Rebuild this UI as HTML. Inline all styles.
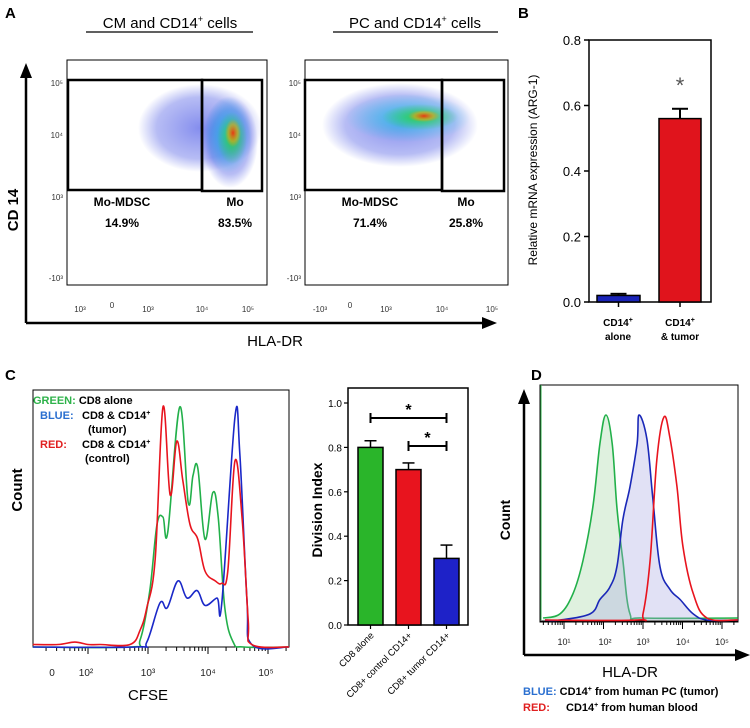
<!DOCTYPE html>
<html><head><meta charset="utf-8">
<style>
html,body{margin:0;padding:0;background:#fff;}
svg{display:block;font-family:"Liberation Sans",Arial,sans-serif;}
</style></head>
<body>
<svg id="fig" width="750" height="728" viewBox="0 0 750 728" xmlns="http://www.w3.org/2000/svg">
<defs>
  <radialGradient id="gBlue"><stop offset="0" stop-color="#2030e0" stop-opacity="0.55"/><stop offset="0.7" stop-color="#3040e0" stop-opacity="0.35"/><stop offset="1" stop-color="#3040e0" stop-opacity="0"/></radialGradient>
  <radialGradient id="gCyan"><stop offset="0" stop-color="#20c8e8" stop-opacity="0.85"/><stop offset="1" stop-color="#20c8e8" stop-opacity="0"/></radialGradient>
  <radialGradient id="gGreen"><stop offset="0" stop-color="#30d040" stop-opacity="0.95"/><stop offset="1" stop-color="#30d040" stop-opacity="0"/></radialGradient>
  <radialGradient id="gRed"><stop offset="0" stop-color="#f03010" stop-opacity="0.95"/><stop offset="0.6" stop-color="#f0a010" stop-opacity="0.6"/><stop offset="1" stop-color="#f0a010" stop-opacity="0"/></radialGradient>
</defs>

<!-- PANEL A -->
<g>
  <text x="5" y="18" font-size="15" font-weight="bold">A</text>
  <text x="170" y="28" font-size="15" text-anchor="middle">CM and CD14<tspan font-size="9" dy="-6">+</tspan><tspan dy="6"> cells</tspan></text>
  <line x1="86" y1="32" x2="253" y2="32" stroke="#000" stroke-width="1.3"/>
  <text x="415" y="28" font-size="15" text-anchor="middle">PC and CD14<tspan font-size="9" dy="-6">+</tspan><tspan dy="6"> cells</tspan></text>
  <line x1="333" y1="32" x2="498" y2="32" stroke="#000" stroke-width="1.3"/>

  <line x1="26" y1="323" x2="26" y2="74" stroke="#000" stroke-width="2.5"/>
  <polygon points="26,63 20,78 32,78" fill="#000"/>
  <line x1="26" y1="323" x2="485" y2="323" stroke="#000" stroke-width="2.5"/>
  <polygon points="497,323 482,317 482,329" fill="#000"/>
  <text transform="translate(18,210) rotate(-90)" font-size="15" font-weight="bold" text-anchor="middle">CD 14</text>
  <text x="275" y="346" font-size="15" text-anchor="middle">HLA-DR</text>

  <g>
    <rect x="67" y="60" width="200" height="225" fill="#fff" stroke="#000" stroke-width="1"/>
    <ellipse cx="200" cy="128" rx="62" ry="44" fill="url(#gBlue)"/>
    <ellipse cx="230" cy="142" rx="28" ry="46" fill="url(#gBlue)"/>
    <ellipse cx="228" cy="135" rx="24" ry="38" fill="url(#gCyan)"/>
    <ellipse cx="232" cy="138" rx="15" ry="26" fill="url(#gGreen)"/>
    <ellipse cx="233" cy="133" rx="8" ry="14" fill="url(#gRed)"/>
    <rect x="68" y="80" width="134" height="110" fill="none" stroke="#000" stroke-width="2.5"/>
    <rect x="202" y="80" width="60" height="111" fill="none" stroke="#000" stroke-width="2.5"/>
    <g font-size="12" font-weight="bold" text-anchor="middle">
      <text x="122" y="206">Mo-MDSC</text><text x="235" y="206">Mo</text>
      <text x="122" y="227">14.9%</text><text x="235" y="227">83.5%</text>
    </g>
    <g font-size="8" fill="#333" text-anchor="end">
      <text x="63" y="86">10⁵</text><text x="63" y="138">10⁴</text><text x="63" y="200">10³</text><text x="63" y="281">-10³</text>
    </g>
    <g font-size="8" fill="#333" text-anchor="middle">
      <text x="80" y="312">10³</text><text x="112" y="308">0</text><text x="148" y="312">10³</text><text x="202" y="312">10⁴</text><text x="248" y="312">10⁵</text>
    </g>
  </g>

  <g>
    <rect x="305" y="60" width="203" height="225" fill="#fff" stroke="#000" stroke-width="1"/>
    <ellipse cx="400" cy="125" rx="78" ry="42" fill="url(#gBlue)"/>
    <ellipse cx="408" cy="118" rx="62" ry="24" fill="url(#gCyan)"/>
    <ellipse cx="420" cy="117" rx="38" ry="13" fill="url(#gGreen)"/>
    <ellipse cx="424" cy="116" rx="16" ry="6" fill="url(#gRed)"/>
    <rect x="305" y="80" width="137" height="110" fill="none" stroke="#000" stroke-width="2.5"/>
    <rect x="442" y="80" width="62" height="111" fill="none" stroke="#000" stroke-width="2.5"/>
    <g font-size="12" font-weight="bold" text-anchor="middle">
      <text x="370" y="206">Mo-MDSC</text><text x="466" y="206">Mo</text>
      <text x="370" y="227">71.4%</text><text x="466" y="227">25.8%</text>
    </g>
    <g font-size="8" fill="#333" text-anchor="end">
      <text x="301" y="86">10⁵</text><text x="301" y="138">10⁴</text><text x="301" y="200">10³</text><text x="301" y="281">-10³</text>
    </g>
    <g font-size="8" fill="#333" text-anchor="middle">
      <text x="320" y="312">-10³</text><text x="350" y="308">0</text><text x="386" y="312">10³</text><text x="442" y="312">10⁴</text><text x="492" y="312">10⁵</text>
    </g>
  </g>
</g>

<!-- PANEL B -->
<g id="panelB">
  <text x="518" y="18" font-size="15" font-weight="bold">B</text>
  <rect x="589" y="40" width="122" height="262" fill="none" stroke="#000" stroke-width="1.5"/>
  <text transform="translate(537,170) rotate(-90)" font-size="12" text-anchor="middle">Relative mRNA expression (ARG-1)</text>
  <text x="680" y="93" font-size="22" fill="#555" text-anchor="middle">*</text>
  <g font-size="10" font-weight="bold" text-anchor="middle">
    <text x="618" y="326">CD14<tspan font-size="7" dy="-4">+</tspan></text><text x="618" y="340">alone</text>
    <text x="680" y="326">CD14<tspan font-size="7" dy="-4">+</tspan></text><text x="680" y="340">&amp; tumor</text>
  </g>
</g>

<!-- PANEL C -->
<g id="panelC">
  <text x="5" y="380" font-size="15" font-weight="bold">C</text>
  <rect x="33" y="390" width="256" height="257" fill="#fff" stroke="#000" stroke-width="1"/>
  <g font-size="11" font-weight="bold">
    <text x="33" y="404"><tspan fill="#2eb24a">GREEN:</tspan> CD8 alone</text>
    <text x="40" y="419"><tspan fill="#2a6fd0">BLUE:</tspan><tspan x="82">CD8 &amp; CD14</tspan><tspan font-size="7" dy="-4">+</tspan></text>
    <text x="88" y="433">(tumor)</text>
    <text x="40" y="448"><tspan fill="#e02020">RED:</tspan><tspan x="82">CD8 &amp; CD14</tspan><tspan font-size="7" dy="-4">+</tspan></text>
    <text x="85" y="462">(control)</text>
  </g>
  <text transform="translate(22,490) rotate(-90)" font-size="15" font-weight="bold" text-anchor="middle">Count</text>
  <text x="148" y="700" font-size="15" text-anchor="middle">CFSE</text>
  <g font-size="10" fill="#222" text-anchor="middle">
    <text x="52" y="676">0</text><text x="86" y="676">10²</text><text x="148" y="676">10³</text><text x="208" y="676">10⁴</text><text x="266" y="676">10⁵</text>
  </g>
</g>

<g id="panelDI">
  <rect x="348" y="388" width="120" height="237" fill="none" stroke="#000" stroke-width="1.5"/>
  <text transform="translate(322,510) rotate(-90)" font-size="14" font-weight="bold" text-anchor="middle">Division Index</text>
</g>

<!-- PANEL D -->
<g id="panelD">
  <text x="531" y="380" font-size="15" font-weight="bold">D</text>
  <rect x="540" y="385" width="198" height="237" fill="#fff" stroke="#000" stroke-width="1"/>
  <line x1="541" y1="385" x2="541" y2="620" stroke="#2eb24a" stroke-width="1"/>
  <line x1="524" y1="655" x2="524" y2="400" stroke="#000" stroke-width="2.5"/>
  <polygon points="524,389 518,404 530,404" fill="#000"/>
  <line x1="524" y1="655" x2="738" y2="655" stroke="#000" stroke-width="2.5"/>
  <polygon points="750,655 735,649 735,661" fill="#000"/>
  <text transform="translate(510,520) rotate(-90)" font-size="14" font-weight="bold" text-anchor="middle">Count</text>
  <text x="630" y="677" font-size="15" text-anchor="middle">HLA-DR</text>
  <g font-size="11" font-weight="bold">
    <text x="523" y="695"><tspan fill="#2a6fd0">BLUE:</tspan> CD14<tspan font-size="7" dy="-4">+</tspan><tspan dy="4"> from human PC (tumor)</tspan></text>
    <text x="523" y="711"><tspan fill="#e02020">RED:</tspan><tspan x="566">CD14</tspan><tspan font-size="7" dy="-4">+</tspan><tspan dy="4"> from human blood</tspan></text>
  </g>
  <g font-size="9" fill="#222" text-anchor="middle">
    <text x="564" y="645">10¹</text><text x="605" y="645">10²</text><text x="643" y="645">10³</text><text x="683" y="645">10⁴</text><text x="722" y="645">10⁵</text>
  </g>
</g>
</svg>

<script>
const bCategories = ["CD14+ alone", "CD14+ & tumor"];
const bValues = [0.02, 0.56];
const bErrors = [0.005, 0.03];
const bTicks = [0.0, 0.2, 0.4, 0.6, 0.8];
const diCategories = ["CD8 alone", "CD8+ control CD14+", "CD8+ tumor CD14+"];
const diValues = [0.80, 0.70, 0.30];
const diErrors = [0.03, 0.03, 0.06];
const diTicks = [0.0, 0.2, 0.4, 0.6, 0.8, 1.0];
const cfseRedX = [1.08,1.5,1.78,2.0,2.2,2.7,2.87,2.98,3.12,3.25,3.37,3.48,3.58,3.7,3.83,3.95,4.12,4.23,4.33,4.45,4.57,4.67,4.73,5.35];
const cfseRedY = [0.01,0.01,0.02,0.01,0.01,0.01,0.07,0.16,0.36,0.98,0.62,0.84,0.68,0.50,0.44,0.31,0.27,0.26,0.31,0.76,0.52,0.11,0.01,0];
const cfseGreenX = [1.08,2.7,2.87,3.03,3.15,3.25,3.33,3.53,3.67,3.75,3.83,3.95,4.08,4.17,4.28,4.42,4.6,5.35];
const cfseGreenY = [0,0,0.03,0.23,0.50,0.53,0.47,0.98,0.59,0.70,0.73,0.44,0.63,0.53,0.16,0.02,0,0];
const cfseBlueX = [1.08,2.8,2.98,3.2,3.32,3.5,3.65,3.82,3.95,4.15,4.23,4.45,4.53,4.65,4.73,5.35];
const cfseBlueY = [0,0,0.02,0.18,0.16,0.27,0.20,0.23,0.17,0.20,0.18,0.94,0.79,0.19,0.01,0];
const hlaGreenX = [0.47,0.9,1.23,1.48,1.73,1.91,2.06,2.22,2.34,2.49,2.67,3.0,5.4];
const hlaGreenY = [0.01,0.03,0.13,0.29,0.55,0.86,1.0,0.86,0.55,0.29,0.03,0.01,0.01];
const hlaBlueX = [0.52,0.9,1.66,1.91,2.16,2.34,2.49,2.67,2.85,2.9,3.1,3.25,3.43,3.68,3.94,4.27,4.62,5.4];
const hlaBlueY = [0,0,0.03,0.10,0.16,0.26,0.49,0.65,0.86,1.0,0.88,0.59,0.26,0.15,0.10,0.03,0,0];
const hlaRedX = [0.52,2.85,3.0,3.18,3.35,3.53,3.68,3.86,4.01,4.27,4.62,5.4];
const hlaRedY = [0,0,0.03,0.29,0.78,0.99,0.89,0.65,0.36,0.13,0.01,0];

const NS = "http://www.w3.org/2000/svg";
function mk(parent, tag, attrs) {
  const e = document.createElementNS(NS, tag);
  for (const k in attrs) e.setAttribute(k, attrs[k]);
  parent.appendChild(e);
  return e;
}

(function(){
  const g = document.getElementById("panelB");
  const y = v => 302 - v * 327.5;
  const xs = [597, 659], ws = [43, 42], cols = ["#1a24b8", "#e0141c"];
  bTicks.forEach(t => {
    mk(g, "line", {x1:584, x2:589, y1:y(t), y2:y(t), stroke:"#000", "stroke-width":1.5});
    const tx = mk(g, "text", {x:581, y:y(t)+5, "font-size":13, "text-anchor":"end"});
    tx.textContent = t.toFixed(1);
    
    
  });
  bValues.forEach((v, i) => {
    const cx = xs[i] + ws[i]/2;
    mk(g, "line", {x1:cx, x2:cx, y1:y(v), y2:y(v+bErrors[i]), stroke:"#000", "stroke-width":2});
    mk(g, "line", {x1:cx-8, x2:cx+8, y1:y(v+bErrors[i]), y2:y(v+bErrors[i]), stroke:"#000", "stroke-width":2});
    const r = mk(g, "rect", {x:xs[i], y:y(v), width:ws[i], height:302-y(v), fill:cols[i], stroke:"#000", "stroke-width":1.5});
    
    
    mk(g, "line", {x1:cx, x2:cx, y1:302, y2:307, stroke:"#000", "stroke-width":1.5});
  });
})();

(function(){
  const g = document.getElementById("panelDI");
  const y = v => 625 - v * 222;
  const xs = [358, 396, 434], w = 25, cols = ["#2ab52a", "#e8141e", "#1e22c8"];
  diTicks.forEach(t => {
    mk(g, "line", {x1:344, x2:348, y1:y(t), y2:y(t), stroke:"#000", "stroke-width":1.2});
    const tx = mk(g, "text", {x:342, y:y(t)+4, "font-size":10, "text-anchor":"end"});
    tx.textContent = t.toFixed(1);
    
    
  });
  diValues.forEach((v, i) => {
    const cx = xs[i] + w/2;
    mk(g, "line", {x1:cx, x2:cx, y1:y(v), y2:y(v+diErrors[i]), stroke:"#000", "stroke-width":1.5});
    mk(g, "line", {x1:cx-6, x2:cx+6, y1:y(v+diErrors[i]), y2:y(v+diErrors[i]), stroke:"#000", "stroke-width":1.5});
    const r = mk(g, "rect", {x:xs[i], y:y(v), width:w, height:625-y(v), fill:cols[i], stroke:"#000", "stroke-width":1.5});
    
    
    mk(g, "line", {x1:cx, x2:cx, y1:625, y2:629, stroke:"#000", "stroke-width":1.2});
    const lab = mk(g, "text", {transform:`translate(${cx+4},636) rotate(-45)`, "font-size":9.5, "text-anchor":"end"});
    lab.textContent = diCategories[i];
    
    
  });
  const c0 = xs[0]+w/2, c1 = xs[1]+w/2, c2 = xs[2]+w/2;
  [[c0, c2, 418], [c1, c2, 446]].forEach(([a, b, yy]) => {
    mk(g, "line", {x1:a, x2:b, y1:yy, y2:yy, stroke:"#000", "stroke-width":2});
    mk(g, "line", {x1:a, x2:a, y1:yy-5, y2:yy+5, stroke:"#000", "stroke-width":2});
    mk(g, "line", {x1:b, x2:b, y1:yy-5, y2:yy+5, stroke:"#000", "stroke-width":2});
    const s = mk(g, "text", {x:(a+b)/2, y:yy-3, "font-size":16, "font-weight":"bold", "text-anchor":"middle"});
    s.textContent = "*";
    
    
  });
})();

function smoothPath(P) {
  let d = "M" + P[0][0].toFixed(1) + "," + P[0][1].toFixed(1);
  for (let i = 0; i < P.length - 1; i++) {
    const p0 = P[Math.max(0, i-1)], p1 = P[i], p2 = P[i+1], p3 = P[Math.min(P.length-1, i+2)];
    const t = 0.18;
    const c1x = p1[0] + (p2[0]-p0[0])*t, c1y = p1[1] + (p2[1]-p0[1])*t;
    const c2x = p2[0] - (p3[0]-p1[0])*t, c2y = p2[1] - (p3[1]-p1[1])*t;
    d += ` C${c1x.toFixed(1)},${c1y.toFixed(1)} ${c2x.toFixed(1)},${c2y.toFixed(1)} ${p2[0].toFixed(1)},${p2[1].toFixed(1)}`;
  }
  return d;
}

function drawLine(g, X, Y, xf, yf, color, fill, name) {
  const P = X.map((x, i) => [xf(x), yf(Y[i])]);
  const d = smoothPath(P);
  if (fill) {
    const p = mk(g, "path", {d: d + ` L${P[P.length-1][0].toFixed(1)},${yf(0)} L${P[0][0].toFixed(1)},${yf(0)} Z`, fill:fill, stroke:"none"});
    
    
  }
  const l = mk(g, "path", {d:d, fill:"none", stroke:color, "stroke-width":1.6, "stroke-linejoin":"round"});
  
  
}

(function(){
  const g = document.getElementById("panelC");
  const xf = v => 148 + (v - 3) * 60;
  const yf = c => 647 - c * 245;
  mk(g, "line", {x1:33, x2:289, y1:647, y2:647, stroke:"#000", "stroke-width":1});
  for (let d = 1; d <= 5; d++) for (let k = 1; k < 10; k++) {
    const x = xf(d + Math.log10(k)); if (x < 35 || x > 288) continue;
    mk(g, "line", {x1:x, x2:x, y1:647, y2:k===1?654:651, stroke:"#000", "stroke-width":1});
  }
  drawLine(g, cfseGreenX, cfseGreenY, xf, yf, "#22b04a", null, "cfse-green-curve");
  drawLine(g, cfseBlueX, cfseBlueY, xf, yf, "#1a28c8", null, "cfse-blue-curve");
  drawLine(g, cfseRedX, cfseRedY, xf, yf, "#e8141e", null, "cfse-red-curve");
})();

(function(){
  const g = document.getElementById("panelD");
  const xf = v => 564 + (v - 1) * 39.5;
  const yf = c => 620 - c * 205;
  mk(g, "line", {x1:540, x2:738, y1:621, y2:621, stroke:"#000", "stroke-width":1});
  for (let d = 0; d <= 5; d++) for (let k = 1; k < 10; k++) {
    const x = xf(d + Math.log10(k)); if (x < 542 || x > 737) continue;
    mk(g, "line", {x1:x, x2:x, y1:621, y2:k===1?629:625, stroke:"#000", "stroke-width":1});
  }
  drawLine(g, hlaGreenX, hlaGreenY, xf, yf, "#22b04a", "rgba(150,210,150,0.3)", "hla-green-curve");
  drawLine(g, hlaBlueX, hlaBlueY, xf, yf, "#1a28b8", "rgba(170,170,225,0.35)", "hla-blue-curve");
  drawLine(g, hlaRedX, hlaRedY, xf, yf, "#e8141e", null, "hla-red-curve");
})();
</script>
</body></html>
